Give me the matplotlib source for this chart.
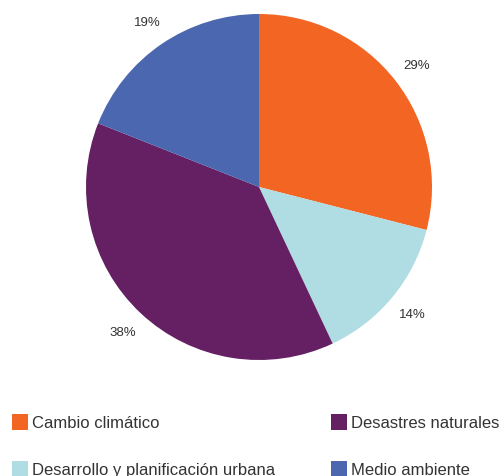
import matplotlib.pyplot as plt
from matplotlib.patches import Rectangle

plt.rcParams['font.family'] = ['Liberation Sans', 'DejaVu Sans']

# Slice data, clockwise from 12 o'clock
categories = ['Cambio climático', 'Desarrollo y planificación urbana',
              'Desastres naturales', 'Medio ambiente']
shares = [29, 14, 38, 19]
colors = ['#F26522', '#B0DDE3', '#642062', '#4A67B0']

# Legend order as shown (two columns)
legend_order = ['Cambio climático', 'Desastres naturales',
                'Desarrollo y planificación urbana', 'Medio ambiente']

W, H = 500, 477
fig = plt.figure(figsize=(W / 100, H / 100), dpi=100)

# pie centred at (259, 188) px, radius 173 px
cx, cy, r = 259, 188, 173
ax = fig.add_axes([(cx - r) / W, (H - cy - r) / H, 2 * r / W, 2 * r / H])
ax.pie(shares, colors=colors, startangle=90, counterclock=False,
       radius=1, autopct='%d%%', pctdistance=1.15,
       wedgeprops=dict(linewidth=0),
       textprops=dict(fontsize=9.5, color='#333333'))
ax.set_xlim(-1, 1)
ax.set_ylim(-1, 1)
ax.set_axis_off()

# Legend
col_x = [12, 331]
row_y = [423, 470]
sq = 16
for i, name in enumerate(legend_order):
    x = col_x[i % 2]
    y = row_y[i // 2]
    c = colors[categories.index(name)]
    fig.add_artist(Rectangle((x / W, (H - y - sq / 2) / H), sq / W, sq / H,
                             facecolor=c, edgecolor='none',
                             transform=fig.transFigure))
    fig.text((x + sq + 4) / W, (H - y - 1) / H, name, fontsize=12,
             color='#333333', va='center', ha='left')

fig.savefig('out.png', dpi=100, facecolor='white')
